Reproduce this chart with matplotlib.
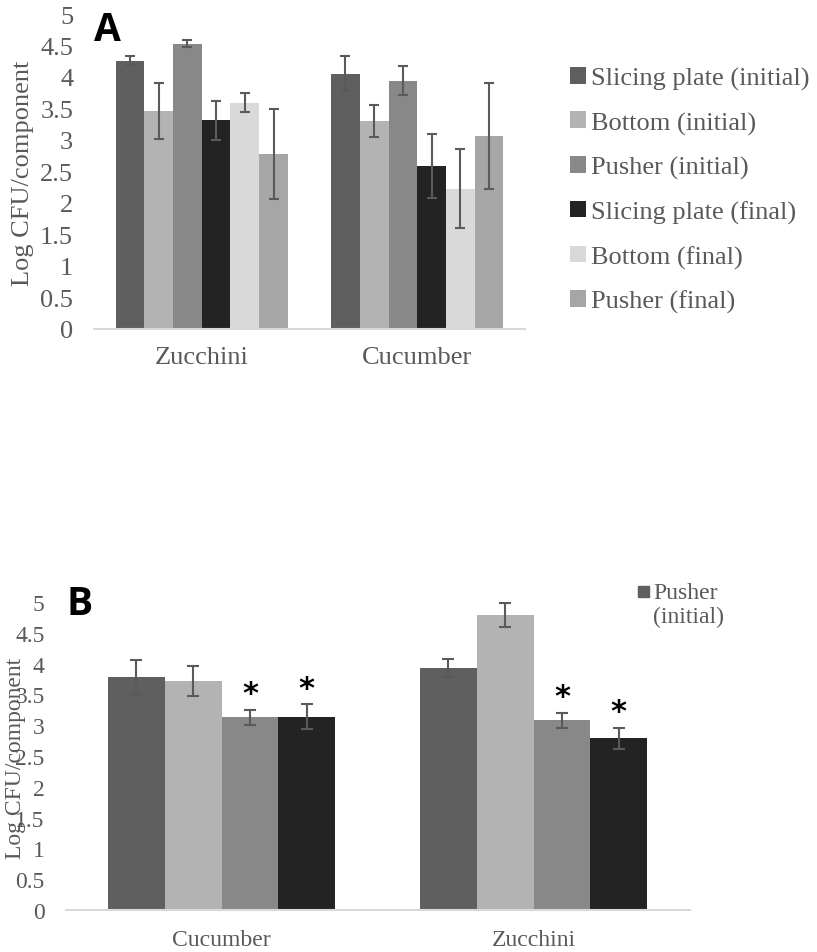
import matplotlib
matplotlib.use("Agg")
import matplotlib.pyplot as plt
from matplotlib.patches import Rectangle
import numpy as np

# ---------------- data ----------------
# Panel A: log CFU per slicer component, initial vs final sampling
groups_a = ["Zucchini", "Cucumber"]
series_a = ["Slicing plate (initial)", "Bottom (initial)", "Pusher (initial)",
            "Slicing plate (final)", "Bottom (final)", "Pusher (final)"]
means_a = [
    [4.26, 4.05],   # Slicing plate (initial)
    [3.46, 3.30],   # Bottom (initial)
    [4.53, 3.94],   # Pusher (initial)
    [3.31, 2.59],   # Slicing plate (final)
    [3.59, 2.23],   # Bottom (final)
    [2.78, 3.07],   # Pusher (final)
]
errs_a = [
    [0.07, 0.28],
    [0.44, 0.26],
    [0.06, 0.23],
    [0.31, 0.51],
    [0.15, 0.63],
    [0.72, 0.84],
]

# Panel B: four bars per produce; only one series carries a legend entry
groups_b = ["Cucumber", "Zucchini"]
means_b = [
    [3.78, 3.93],
    [3.72, 4.79],
    [3.13, 3.08],
    [3.14, 2.79],
]
errs_b = [
    [0.28, 0.15],
    [0.24, 0.19],
    [0.12, 0.12],
    [0.20, 0.17],
]
signif_b = [
    [False, False],
    [False, False],
    [True, True],
    [True, True],
]
legend_b = "Pusher\n(initial)"

yticks = [0, 0.5, 1, 1.5, 2, 2.5, 3, 3.5, 4, 4.5, 5]
ytick_labels = ["0", "0.5", "1", "1.5", "2", "2.5", "3", "3.5", "4", "4.5", "5"]
ylabel = "Log CFU/component"

# ---------------- style ----------------
colors = ["#5f5f5f", "#b3b3b3", "#888888", "#232323", "#d9d9d9", "#a6a6a6"]
text_gray = "#595959"
err_gray = "#5a5a5a"
serif = ["Liberation Serif", "DejaVu Serif"]

W, H = 817, 953
fig = plt.figure(figsize=(W / 100, H / 100), dpi=100)


def px_axes(x0, y0, x1, y1):
    """Axes rectangle from pixel box (left, top, right, bottom)."""
    return fig.add_axes([x0 / W, 1 - y1 / H, (x1 - x0) / W, (y1 - y0) / H])


def style_axes(ax, cats, fs, xpad, ypad):
    ax.set_xlim(-0.5, 1.5)
    ax.set_ylim(0, 5)
    ax.set_yticks(yticks)
    ax.set_yticklabels(ytick_labels)
    ax.set_xticks(range(len(cats)))
    ax.set_xticklabels(cats)
    for s in ["top", "right", "left"]:
        ax.spines[s].set_visible(False)
    ax.spines["bottom"].set_color("#d9d9d9")
    ax.spines["bottom"].set_linewidth(1.5)
    ax.tick_params(axis="both", length=0, labelcolor=text_gray, labelsize=fs)
    ax.tick_params(axis="y", pad=ypad)
    ax.tick_params(axis="x", pad=xpad)
    for lab in ax.get_xticklabels() + ax.get_yticklabels():
        lab.set_family(serif)


# ---------------- panel A ----------------
axA = px_axes(94, 15, 525, 330)
n_a = len(series_a)
w_a = 0.8 / n_a
x_a = np.arange(len(groups_a))
handles = []
for i in range(n_a):
    pos = x_a - 0.4 + w_a * (i + 0.5)
    b = axA.bar(pos, means_a[i], width=w_a, color=colors[i], label=series_a[i],
                zorder=2)
    axA.errorbar(pos, means_a[i], yerr=errs_a[i], fmt="none", ecolor=err_gray,
                 elinewidth=1.5, capsize=3.5, capthick=1.5, zorder=3)
    handles.append(b)
style_axes(axA, groups_a, 19, 12, 15)

legA = fig.legend(handles=handles, labels=series_a, loc="upper left",
                  bbox_to_anchor=(570 / W, 1 - 68 / H), frameon=False,
                  prop={"family": serif, "size": 19},
                  handlelength=0.6, handleheight=0.6, handletextpad=0.2,
                  labelspacing=0.81, borderaxespad=0, borderpad=0)
for t in legA.get_texts():
    t.set_color(text_gray)

fig.text(23 / W, 1 - 173 / H, ylabel, rotation=90, ha="center", va="center",
         family=serif, size=19, color=text_gray)
fig.text(94 / W, 1 - 11 / H, "A", ha="left", va="top", family="Open Sans",
         weight="bold", size=28, color="black")

# ---------------- panel B ----------------
axB = px_axes(65.5, 603, 689.5, 911)
n_b = len(means_b)
w_b = 0.728 / n_b
x_b = np.arange(len(groups_b))
for i in range(n_b):
    pos = x_b - 0.364 + w_b * (i + 0.5)
    axB.bar(pos, means_b[i], width=w_b, color=colors[i], zorder=2)
    axB.errorbar(pos, means_b[i], yerr=errs_b[i], fmt="none", ecolor=err_gray,
                 elinewidth=1.5, capsize=4, capthick=1.5, zorder=3)
    for xp, m, e, s in zip(pos, means_b[i], errs_b[i], signif_b[i]):
        if s:
            axB.annotate("*", xy=(xp, m + e), xytext=(0, 1),
                         textcoords="offset points", ha="center", va="bottom",
                         family="DejaVu Sans", weight="bold", size=22,
                         color="black")
style_axes(axB, groups_b, 17, 14, 15)

# single-entry key in the top right corner: square marker beside the first line
fig.patches.append(Rectangle((638 / W, 1 - 598 / H), 11 / W, 11 / H,
                             transform=fig.transFigure, color=colors[0]))
fig.text(653 / W, 1 - 583 / H, legend_b, ha="left", va="top", family=serif,
         size=17, color=text_gray, linespacing=1.15)

fig.text(16 / W, 1 - 758 / H, ylabel, rotation=90, ha="center", va="center",
         family=serif, size=17, color=text_gray)
fig.text(67 / W, 1 - 585 / H, "B", ha="left", va="top", family="Open Sans",
         weight="bold", size=28, color="black")

fig.savefig("out.png", dpi=100)
